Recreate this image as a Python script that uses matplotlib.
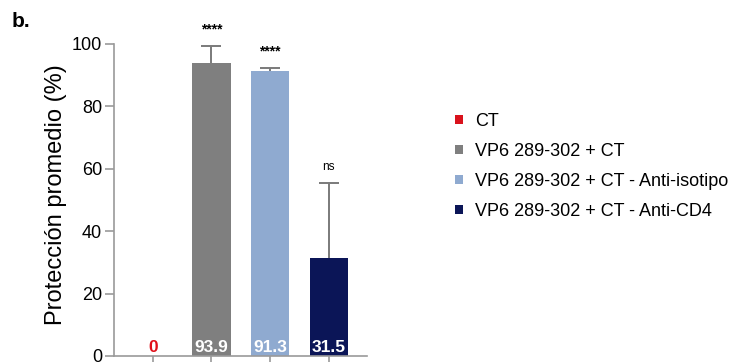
import numpy as np
import matplotlib.pyplot as plt

plt.rcParams['font.family'] = ['Liberation Sans', 'DejaVu Sans']

grupos = ["CT", "VP6 289-302 + CT", "VP6 289-302 + CT - Anti-isotipo",
          "VP6 289-302 + CT - Anti-CD4"]
proteccion = [0, 93.9, 91.3, 31.5]
error_sup = [0, 5.5, 1.0, 24.0]
signif = ["", "****", "****", "ns"]
colores = ["#d9121c", "#7f7f7f", "#8faad0", "#0b1557"]
color_etiqueta = ["#e0101a", "white", "white", "white"]

fig = plt.figure(figsize=(7.38, 3.62), dpi=100)
ax = fig.add_axes([0.1545, 0.0166, 0.3428, 0.862])

x = np.arange(len(grupos))
bars = ax.bar(x, proteccion, width=0.65, color=colores, label=grupos, zorder=2)
# barra de error simetrica, la mitad inferior queda tapada por la barra
ax.errorbar(x[1:], proteccion[1:], yerr=error_sup[1:],
            fmt="none", ecolor="#7a7a7a", elinewidth=1.4, capsize=7,
            capthick=1.4, zorder=1)

for xi, v, e, s, c in zip(x, proteccion, error_sup, signif, color_etiqueta):
    ax.text(xi, 0.2, f"{v:g}", ha="center", va="bottom", color=c,
            fontsize=12.5, fontweight="bold", zorder=3)
    if s == "ns":
        ax.text(xi, v + e + 3, s, ha="center", va="bottom", fontsize=8.5)
    elif s:
        ax.text(xi, v + e + 3, s, ha="center", va="bottom", fontsize=10,
                fontweight="bold")

ax.set_xlim(-0.66, 3.65)
ax.set_ylim(0, 100)
ax.set_yticks([0, 20, 40, 60, 80, 100])
ax.set_xticks(x)
ax.set_xticklabels([])
ax.tick_params(axis="both", colors="#9a9a9a", labelcolor="black",
               labelsize=13, length=6.5, width=1.2, pad=2)
for side in ["top", "right"]:
    ax.spines[side].set_visible(False)
for side in ["left", "bottom"]:
    ax.spines[side].set_color("#9a9a9a")
    ax.spines[side].set_linewidth(1.2)
ax.set_ylabel("Protección promedio (%)", fontsize=17)
ax.yaxis.set_label_coords(-0.185, 0.518)

ax.legend(handles=bars, labels=grupos, loc="center left",
          bbox_to_anchor=(1.285, 0.607), frameon=False, fontsize=13,
          handlelength=0.4, handleheight=0.4, handletextpad=0.67,
          labelspacing=0.72)

fig.text(0.016, 0.925, "b.", fontsize=15, fontweight="bold")

fig.savefig("out.png", dpi=100)
